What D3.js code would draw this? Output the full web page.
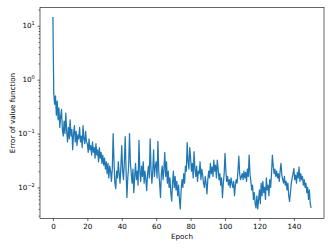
<!DOCTYPE html>
<html>
<head>
<meta charset="utf-8">
<script src="https://cdn.jsdelivr.net/npm/d3@7"></script>
<style>
    body { margin: 0; background: #fff; }
    text { font-family: "DejaVu Sans", sans-serif; fill: #000; }
</style>
</head>
<body>
<div id="chart"></div>
<script>
const epochStep = 0.5;
const errorValues = [
    14.5, 0.55, 0.35, 0.5, 0.22, 0.4, 0.18, 0.3, 0.13, 0.21, 0.28, 0.12, 0.09, 0.17, 0.1, 0.24, 0.11, 0.07, 0.13, 0.08,
    0.18, 0.09, 0.12, 0.05, 0.1, 0.14, 0.07, 0.11, 0.06, 0.095, 0.08, 0.13, 0.07, 0.09, 0.055, 0.14, 0.08, 0.065, 0.11, 0.07,
    0.065, 0.045, 0.08, 0.05, 0.06, 0.04, 0.07, 0.045, 0.055, 0.035, 0.065, 0.04, 0.05, 0.03, 0.055, 0.035, 0.045, 0.028, 0.04, 0.026,
    0.035, 0.022, 0.03, 0.018, 0.028, 0.015, 0.025, 0.02, 0.013, 0.022, 0.1, 0.03, 0.012, 0.0095, 0.02, 0.015, 0.03, 0.018, 0.012, 0.025,
    0.06, 0.02, 0.014, 0.03, 0.088, 0.02, 0.0065, 0.015, 0.025, 0.1, 0.03, 0.018, 0.012, 0.022, 0.008, 0.016, 0.028, 0.014, 0.02, 0.011,
    0.075, 0.02, 0.013, 0.025, 0.016, 0.03, 0.012, 0.02, 0.014, 0.0087, 0.018, 0.025, 0.015, 0.08, 0.022, 0.012, 0.02, 0.05, 0.016, 0.025,
    0.03, 0.015, 0.072, 0.02, 0.012, 0.0065, 0.018, 0.025, 0.014, 0.022, 0.045, 0.016, 0.03, 0.012, 0.02, 0.01, 0.015, 0.008, 0.0056, 0.012,
    0.02, 0.01, 0.016, 0.009, 0.013, 0.007, 0.011, 0.006, 0.004, 0.009, 0.014, 0.01, 0.018, 0.012, 0.025, 0.02, 0.068, 0.03, 0.022, 0.055,
    0.035, 0.02, 0.028, 0.015, 0.046, 0.022, 0.016, 0.025, 0.013, 0.02, 0.018, 0.03, 0.014, 0.022, 0.017, 0.012, 0.01, 0.016, 0.012, 0.0076,
    0.014, 0.02, 0.015, 0.028, 0.018, 0.024, 0.016, 0.032, 0.02, 0.026, 0.015, 0.032, 0.022, 0.014, 0.018, 0.011, 0.015, 0.0065, 0.012, 0.018,
    0.043, 0.02, 0.013, 0.016, 0.011, 0.014, 0.01, 0.015, 0.012, 0.01, 0.013, 0.007, 0.011, 0.014, 0.012, 0.02, 0.038, 0.018, 0.014, 0.016,
    0.018, 0.014, 0.02, 0.015, 0.019, 0.013, 0.022, 0.016, 0.04, 0.018, 0.013, 0.009, 0.011, 0.006, 0.008, 0.005, 0.0042, 0.007, 0.004, 0.006,
    0.009, 0.005, 0.012, 0.007, 0.013, 0.008, 0.01, 0.006, 0.015, 0.009, 0.011, 0.007, 0.014, 0.01, 0.018, 0.04, 0.025, 0.018, 0.022, 0.016,
    0.02, 0.015, 0.018, 0.013, 0.02, 0.028, 0.017, 0.014, 0.012, 0.016, 0.011, 0.013, 0.009, 0.012, 0.007, 0.0055, 0.008, 0.012, 0.015, 0.018,
    0.0225, 0.014, 0.017, 0.012, 0.019, 0.015, 0.024, 0.013, 0.018, 0.014, 0.016, 0.011, 0.014, 0.01, 0.012, 0.008, 0.01, 0.006, 0.009, 0.005,
    0.0042
];

const xTicks = [0, 20, 40, 60, 80, 100, 120, 140];
const yTicks = [1e-2, 1e-1, 1e0, 1e1];
const yTickExponents = ["\u22122", "\u22121", "0", "1"];
const xLabel = "Epoch";
const yLabel = "Error of value function";

const width = 332, height = 249;
const margin = { top: 7.5, right: 8, bottom: 30.5, left: 40 };
const fontSize = 7.2;

const data = errorValues.map((v, i) => ({ epoch: i * epochStep, value: v }));

const svg = d3.select("#chart").append("svg")
    .attr("width", width)
    .attr("height", height);

// matplotlib style 5% margins (in log space for y)
const xExt = d3.extent(data, d => d.epoch);
const xPad = (xExt[1] - xExt[0]) * 0.05;
const x = d3.scaleLinear()
    .domain([xExt[0] - xPad, xExt[1] + xPad])
    .range([margin.left, width - margin.right]);

const logExt = d3.extent(data, d => Math.log10(d.value));
const logPad = (logExt[1] - logExt[0]) * 0.05;
const y = d3.scaleLog()
    .domain([Math.pow(10, logExt[0] - logPad), Math.pow(10, logExt[1] + logPad)])
    .range([height - margin.bottom, margin.top]);

// the series
const line = d3.line()
    .x(d => x(d.epoch))
    .y(d => y(d.value));

svg.append("path")
    .datum(data)
    .attr("fill", "none")
    .attr("stroke", "#1f77b4")
    .attr("stroke-width", 1.25)
    .attr("stroke-linejoin", "round")
    .attr("d", line);

// minor log ticks
const minorTicks = [];
for (let k = -3; k <= 1; k++) {
    for (let m = 2; m <= 9; m++) {
        const v = m * Math.pow(10, k);
        if (v >= y.domain()[0] && v <= y.domain()[1]) minorTicks.push(v);
    }
}

const yAxisMinor = svg.append("g")
    .attr("transform", `translate(${margin.left},0)`)
    .call(d3.axisLeft(y).tickValues(minorTicks).tickSize(1.4).tickFormat(""));
yAxisMinor.select(".domain").remove();
yAxisMinor.selectAll("line").attr("stroke", "#000").attr("stroke-width", 0.55);

const yAxis = svg.append("g")
    .attr("transform", `translate(${margin.left},0)`)
    .call(d3.axisLeft(y).tickValues(yTicks).tickSize(2.5).tickFormat(""));
yAxis.select(".domain").remove();
yAxis.selectAll("line").attr("stroke", "#000").attr("stroke-width", 0.6);

// y tick labels as 10^n
yTicks.forEach((t, i) => {
    const label = svg.append("text")
        .attr("x", margin.left - 5.2)
        .attr("y", y(t) + 2.6)
        .attr("text-anchor", "end")
        .style("font-size", fontSize + "px");
    label.append("tspan").text("10");
    label.append("tspan")
        .attr("dy", -3.2)
        .style("font-size", "5px")
        .text(yTickExponents[i]);
});

const xAxis = svg.append("g")
    .attr("transform", `translate(0,${height - margin.bottom})`)
    .call(d3.axisBottom(x).tickValues(xTicks).tickSize(2.5).tickPadding(2.5));
xAxis.select(".domain").remove();
xAxis.selectAll("line").attr("stroke", "#000").attr("stroke-width", 0.6);
xAxis.selectAll("text")
    .attr("font-family", null)
    .style("font-size", fontSize + "px")
    .attr("fill", "#000")
    .attr("dy", "0.78em");
xAxis.attr("font-family", null).attr("font-size", null);

// frame
svg.append("rect")
    .attr("x", margin.left)
    .attr("y", margin.top)
    .attr("width", width - margin.left - margin.right)
    .attr("height", height - margin.top - margin.bottom)
    .attr("fill", "none")
    .attr("stroke", "#000")
    .attr("stroke-width", 0.6);

// labels
svg.append("text")
    .attr("x", (margin.left + width - margin.right) / 2)
    .attr("y", 239)
    .attr("text-anchor", "middle")
    .style("font-size", fontSize + "px")
    .text(xLabel);

svg.append("text")
    .attr("transform", `translate(15,${(margin.top + height - margin.bottom) / 2}) rotate(-90)`)
    .attr("text-anchor", "middle")
    .style("font-size", fontSize + "px")
    .text(yLabel);
</script>
</body>
</html>
